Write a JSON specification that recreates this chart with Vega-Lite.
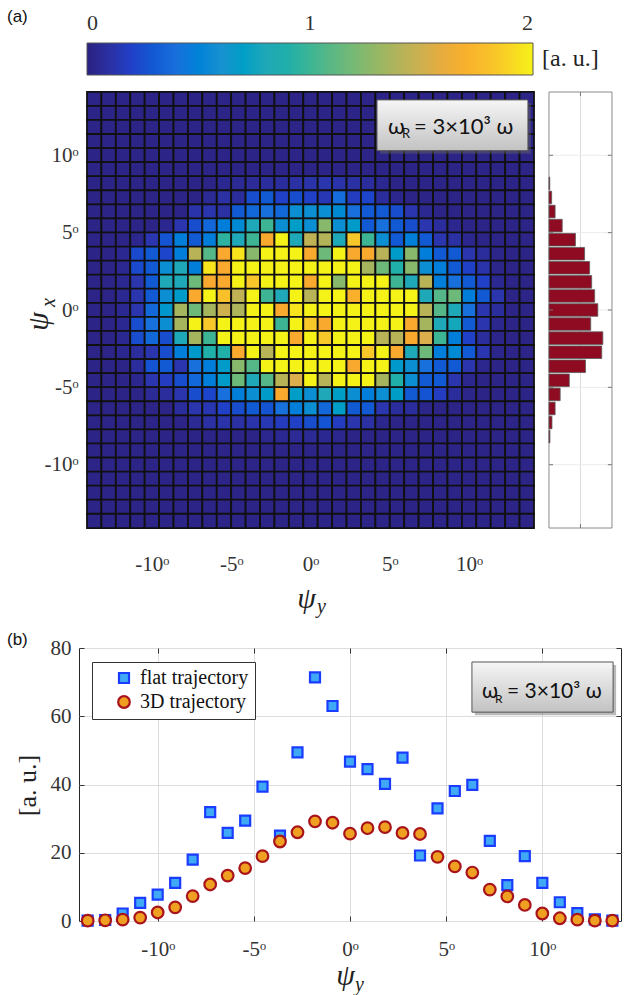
{
"$schema":"https://vega.github.io/schema/vega-lite/v6.json",
"background":"white",
"autosize":{"type":"none"},
"padding":{"left":79,"top":87,"right":553,"bottom":908},
"config":{"view":{"stroke":null},"font":"Liberation Serif"},
"bounds":"flush",
"spacing":115,
"resolve":{"legend":{"color":"independent","fill":"independent","shape":"independent","stroke":"independent","size":"independent"}},
"datasets":{
"ticks":[{"t":4},{"t":9.5},{"t":15},{"t":20.5},{"t":26}],
"hist":[{"r":6,"n":0.5},{"r":7,"n":1.7},{"r":8,"n":3.9},{"r":9,"n":8.4},{"r":10,"n":16.8},{"r":11,"n":22.6},{"r":12,"n":25.8},{"r":13,"n":27.1},{"r":14,"n":29.0},{"r":15,"n":31.0},{"r":16,"n":26.5},{"r":17,"n":34.2},{"r":18,"n":33.5},{"r":19,"n":23.2},{"r":20,"n":12.9},{"r":21,"n":7.1},{"r":22,"n":3.9},{"r":23,"n":1.9},{"r":24,"n":0.6}],
"traj":[
{"psi_y":-13.64,"value":0.1,"series":"flat trajectory"},{"psi_y":-12.73,"value":0.3,"series":"flat trajectory"},{"psi_y":-11.82,"value":2.2,"series":"flat trajectory"},{"psi_y":-10.91,"value":5.3,"series":"flat trajectory"},{"psi_y":-10,"value":7.7,"series":"flat trajectory"},{"psi_y":-9.09,"value":11.2,"series":"flat trajectory"},{"psi_y":-8.18,"value":18.0,"series":"flat trajectory"},{"psi_y":-7.27,"value":31.9,"series":"flat trajectory"},{"psi_y":-6.36,"value":25.8,"series":"flat trajectory"},{"psi_y":-5.45,"value":29.4,"series":"flat trajectory"},{"psi_y":-4.55,"value":39.4,"series":"flat trajectory"},{"psi_y":-3.64,"value":25.0,"series":"flat trajectory"},{"psi_y":-2.73,"value":49.4,"series":"flat trajectory"},{"psi_y":-1.82,"value":71.4,"series":"flat trajectory"},{"psi_y":-0.91,"value":63.0,"series":"flat trajectory"},{"psi_y":0,"value":46.7,"series":"flat trajectory"},{"psi_y":0.91,"value":44.5,"series":"flat trajectory"},{"psi_y":1.82,"value":40.2,"series":"flat trajectory"},{"psi_y":2.73,"value":47.9,"series":"flat trajectory"},{"psi_y":3.64,"value":19.2,"series":"flat trajectory"},{"psi_y":4.55,"value":33.0,"series":"flat trajectory"},{"psi_y":5.45,"value":38.1,"series":"flat trajectory"},{"psi_y":6.36,"value":39.9,"series":"flat trajectory"},{"psi_y":7.27,"value":23.5,"series":"flat trajectory"},{"psi_y":8.18,"value":10.5,"series":"flat trajectory"},{"psi_y":9.09,"value":19.0,"series":"flat trajectory"},{"psi_y":10,"value":11.2,"series":"flat trajectory"},{"psi_y":10.91,"value":5.5,"series":"flat trajectory"},{"psi_y":11.82,"value":2.3,"series":"flat trajectory"},{"psi_y":12.73,"value":0.5,"series":"flat trajectory"},{"psi_y":13.64,"value":0.1,"series":"flat trajectory"},
{"psi_y":-13.64,"value":0.1,"series":"3D trajectory"},{"psi_y":-12.73,"value":0.2,"series":"3D trajectory"},{"psi_y":-11.82,"value":0.4,"series":"3D trajectory"},{"psi_y":-10.91,"value":1.0,"series":"3D trajectory"},{"psi_y":-10,"value":2.5,"series":"3D trajectory"},{"psi_y":-9.09,"value":4.0,"series":"3D trajectory"},{"psi_y":-8.18,"value":7.3,"series":"3D trajectory"},{"psi_y":-7.27,"value":10.7,"series":"3D trajectory"},{"psi_y":-6.36,"value":13.3,"series":"3D trajectory"},{"psi_y":-5.45,"value":15.5,"series":"3D trajectory"},{"psi_y":-4.55,"value":19.0,"series":"3D trajectory"},{"psi_y":-3.64,"value":23.3,"series":"3D trajectory"},{"psi_y":-2.73,"value":26.0,"series":"3D trajectory"},{"psi_y":-1.82,"value":29.2,"series":"3D trajectory"},{"psi_y":-0.91,"value":28.8,"series":"3D trajectory"},{"psi_y":0,"value":25.6,"series":"3D trajectory"},{"psi_y":0.91,"value":27.2,"series":"3D trajectory"},{"psi_y":1.82,"value":27.5,"series":"3D trajectory"},{"psi_y":2.73,"value":25.8,"series":"3D trajectory"},{"psi_y":3.64,"value":25.5,"series":"3D trajectory"},{"psi_y":4.55,"value":18.8,"series":"3D trajectory"},{"psi_y":5.45,"value":16.0,"series":"3D trajectory"},{"psi_y":6.36,"value":14.2,"series":"3D trajectory"},{"psi_y":7.27,"value":9.2,"series":"3D trajectory"},{"psi_y":8.18,"value":7.2,"series":"3D trajectory"},{"psi_y":9.09,"value":4.7,"series":"3D trajectory"},{"psi_y":10,"value":2.2,"series":"3D trajectory"},{"psi_y":10.91,"value":0.8,"series":"3D trajectory"},{"psi_y":11.82,"value":0.4,"series":"3D trajectory"},{"psi_y":12.73,"value":0.1,"series":"3D trajectory"},{"psi_y":13.64,"value":0.1,"series":"3D trajectory"}],
"heat":[
{"c":0,"r":0,"v":0.02},{"c":1,"r":0,"v":0.02},{"c":2,"r":0,"v":0.02},{"c":3,"r":0,"v":0.02},{"c":4,"r":0,"v":0.02},{"c":5,"r":0,"v":0.02},{"c":6,"r":0,"v":0.02},{"c":7,"r":0,"v":0.02},{"c":8,"r":0,"v":0.02},{"c":9,"r":0,"v":0.02},{"c":10,"r":0,"v":0.02},{"c":11,"r":0,"v":0.02},{"c":12,"r":0,"v":0.02},{"c":13,"r":0,"v":0.02},{"c":14,"r":0,"v":0.02},{"c":15,"r":0,"v":0.02},{"c":16,"r":0,"v":0.02},{"c":17,"r":0,"v":0.02},{"c":18,"r":0,"v":0.02},{"c":19,"r":0,"v":0.02},{"c":20,"r":0,"v":0.02},{"c":21,"r":0,"v":0.02},{"c":22,"r":0,"v":0.02},{"c":23,"r":0,"v":0.02},{"c":24,"r":0,"v":0.02},{"c":25,"r":0,"v":0.02},{"c":26,"r":0,"v":0.02},{"c":27,"r":0,"v":0.02},{"c":28,"r":0,"v":0.02},{"c":29,"r":0,"v":0.02},{"c":30,"r":0,"v":0.02},
{"c":0,"r":1,"v":0.02},{"c":1,"r":1,"v":0.02},{"c":2,"r":1,"v":0.02},{"c":3,"r":1,"v":0.02},{"c":4,"r":1,"v":0.02},{"c":5,"r":1,"v":0.02},{"c":6,"r":1,"v":0.02},{"c":7,"r":1,"v":0.02},{"c":8,"r":1,"v":0.02},{"c":9,"r":1,"v":0.02},{"c":10,"r":1,"v":0.02},{"c":11,"r":1,"v":0.02},{"c":12,"r":1,"v":0.02},{"c":13,"r":1,"v":0.02},{"c":14,"r":1,"v":0.02},{"c":15,"r":1,"v":0.02},{"c":16,"r":1,"v":0.02},{"c":17,"r":1,"v":0.02},{"c":18,"r":1,"v":0.02},{"c":19,"r":1,"v":0.02},{"c":20,"r":1,"v":0.02},{"c":21,"r":1,"v":0.02},{"c":22,"r":1,"v":0.02},{"c":23,"r":1,"v":0.02},{"c":24,"r":1,"v":0.02},{"c":25,"r":1,"v":0.02},{"c":26,"r":1,"v":0.02},{"c":27,"r":1,"v":0.02},{"c":28,"r":1,"v":0.02},{"c":29,"r":1,"v":0.02},{"c":30,"r":1,"v":0.02},
{"c":0,"r":2,"v":0.02},{"c":1,"r":2,"v":0.02},{"c":2,"r":2,"v":0.02},{"c":3,"r":2,"v":0.02},{"c":4,"r":2,"v":0.02},{"c":5,"r":2,"v":0.02},{"c":6,"r":2,"v":0.02},{"c":7,"r":2,"v":0.02},{"c":8,"r":2,"v":0.02},{"c":9,"r":2,"v":0.02},{"c":10,"r":2,"v":0.02},{"c":11,"r":2,"v":0.02},{"c":12,"r":2,"v":0.02},{"c":13,"r":2,"v":0.02},{"c":14,"r":2,"v":0.02},{"c":15,"r":2,"v":0.02},{"c":16,"r":2,"v":0.02},{"c":17,"r":2,"v":0.02},{"c":18,"r":2,"v":0.02},{"c":19,"r":2,"v":0.02},{"c":20,"r":2,"v":0.02},{"c":21,"r":2,"v":0.02},{"c":22,"r":2,"v":0.02},{"c":23,"r":2,"v":0.02},{"c":24,"r":2,"v":0.02},{"c":25,"r":2,"v":0.02},{"c":26,"r":2,"v":0.02},{"c":27,"r":2,"v":0.02},{"c":28,"r":2,"v":0.02},{"c":29,"r":2,"v":0.02},{"c":30,"r":2,"v":0.02},
{"c":0,"r":3,"v":0.02},{"c":1,"r":3,"v":0.02},{"c":2,"r":3,"v":0.02},{"c":3,"r":3,"v":0.02},{"c":4,"r":3,"v":0.02},{"c":5,"r":3,"v":0.02},{"c":6,"r":3,"v":0.02},{"c":7,"r":3,"v":0.02},{"c":8,"r":3,"v":0.02},{"c":9,"r":3,"v":0.02},{"c":10,"r":3,"v":0.02},{"c":11,"r":3,"v":0.02},{"c":12,"r":3,"v":0.02},{"c":13,"r":3,"v":0.02},{"c":14,"r":3,"v":0.02},{"c":15,"r":3,"v":0.02},{"c":16,"r":3,"v":0.02},{"c":17,"r":3,"v":0.02},{"c":18,"r":3,"v":0.02},{"c":19,"r":3,"v":0.02},{"c":20,"r":3,"v":0.02},{"c":21,"r":3,"v":0.02},{"c":22,"r":3,"v":0.02},{"c":23,"r":3,"v":0.02},{"c":24,"r":3,"v":0.02},{"c":25,"r":3,"v":0.02},{"c":26,"r":3,"v":0.02},{"c":27,"r":3,"v":0.02},{"c":28,"r":3,"v":0.02},{"c":29,"r":3,"v":0.02},{"c":30,"r":3,"v":0.02},
{"c":0,"r":4,"v":0.02},{"c":1,"r":4,"v":0.02},{"c":2,"r":4,"v":0.02},{"c":3,"r":4,"v":0.02},{"c":4,"r":4,"v":0.02},{"c":5,"r":4,"v":0.02},{"c":6,"r":4,"v":0.02},{"c":7,"r":4,"v":0.02},{"c":8,"r":4,"v":0.02},{"c":9,"r":4,"v":0.02},{"c":10,"r":4,"v":0.02},{"c":11,"r":4,"v":0.02},{"c":12,"r":4,"v":0.02},{"c":13,"r":4,"v":0.02},{"c":14,"r":4,"v":0.02},{"c":15,"r":4,"v":0.02},{"c":16,"r":4,"v":0.02},{"c":17,"r":4,"v":0.02},{"c":18,"r":4,"v":0.02},{"c":19,"r":4,"v":0.02},{"c":20,"r":4,"v":0.02},{"c":21,"r":4,"v":0.02},{"c":22,"r":4,"v":0.02},{"c":23,"r":4,"v":0.02},{"c":24,"r":4,"v":0.02},{"c":25,"r":4,"v":0.02},{"c":26,"r":4,"v":0.02},{"c":27,"r":4,"v":0.02},{"c":28,"r":4,"v":0.02},{"c":29,"r":4,"v":0.02},{"c":30,"r":4,"v":0.02},
{"c":0,"r":5,"v":0.02},{"c":1,"r":5,"v":0.02},{"c":2,"r":5,"v":0.02},{"c":3,"r":5,"v":0.02},{"c":4,"r":5,"v":0.02},{"c":5,"r":5,"v":0.02},{"c":6,"r":5,"v":0.02},{"c":7,"r":5,"v":0.02},{"c":8,"r":5,"v":0.02},{"c":9,"r":5,"v":0.02},{"c":10,"r":5,"v":0.02},{"c":11,"r":5,"v":0.02},{"c":12,"r":5,"v":0.02},{"c":13,"r":5,"v":0.02},{"c":14,"r":5,"v":0.02},{"c":15,"r":5,"v":0.02},{"c":16,"r":5,"v":0.02},{"c":17,"r":5,"v":0.02},{"c":18,"r":5,"v":0.02},{"c":19,"r":5,"v":0.02},{"c":20,"r":5,"v":0.02},{"c":21,"r":5,"v":0.02},{"c":22,"r":5,"v":0.02},{"c":23,"r":5,"v":0.02},{"c":24,"r":5,"v":0.02},{"c":25,"r":5,"v":0.02},{"c":26,"r":5,"v":0.02},{"c":27,"r":5,"v":0.02},{"c":28,"r":5,"v":0.02},{"c":29,"r":5,"v":0.02},{"c":30,"r":5,"v":0.02},
{"c":0,"r":6,"v":0.02},{"c":1,"r":6,"v":0.02},{"c":2,"r":6,"v":0.02},{"c":3,"r":6,"v":0.02},{"c":4,"r":6,"v":0.02},{"c":5,"r":6,"v":0.02},{"c":6,"r":6,"v":0.02},{"c":7,"r":6,"v":0.02},{"c":8,"r":6,"v":0.02},{"c":9,"r":6,"v":0.05},{"c":10,"r":6,"v":0.06},{"c":11,"r":6,"v":0.07},{"c":12,"r":6,"v":0.08},{"c":13,"r":6,"v":0.08},{"c":14,"r":6,"v":0.1},{"c":15,"r":6,"v":0.12},{"c":16,"r":6,"v":0.13},{"c":17,"r":6,"v":0.12},{"c":18,"r":6,"v":0.1},{"c":19,"r":6,"v":0.08},{"c":20,"r":6,"v":0.05},{"c":21,"r":6,"v":0.02},{"c":22,"r":6,"v":0.02},{"c":23,"r":6,"v":0.02},{"c":24,"r":6,"v":0.02},{"c":25,"r":6,"v":0.02},{"c":26,"r":6,"v":0.02},{"c":27,"r":6,"v":0.02},{"c":28,"r":6,"v":0.02},{"c":29,"r":6,"v":0.02},{"c":30,"r":6,"v":0.02},
{"c":0,"r":7,"v":0.02},{"c":1,"r":7,"v":0.02},{"c":2,"r":7,"v":0.02},{"c":3,"r":7,"v":0.02},{"c":4,"r":7,"v":0.02},{"c":5,"r":7,"v":0.02},{"c":6,"r":7,"v":0.02},{"c":7,"r":7,"v":0.02},{"c":8,"r":7,"v":0.06},{"c":9,"r":7,"v":0.1},{"c":10,"r":7,"v":0.08},{"c":11,"r":7,"v":0.25},{"c":12,"r":7,"v":0.3},{"c":13,"r":7,"v":0.2},{"c":14,"r":7,"v":0.25},{"c":15,"r":7,"v":0.2},{"c":16,"r":7,"v":0.15},{"c":17,"r":7,"v":0.38},{"c":18,"r":7,"v":0.18},{"c":19,"r":7,"v":0.22},{"c":20,"r":7,"v":0.08},{"c":21,"r":7,"v":0.04},{"c":22,"r":7,"v":0.02},{"c":23,"r":7,"v":0.02},{"c":24,"r":7,"v":0.02},{"c":25,"r":7,"v":0.02},{"c":26,"r":7,"v":0.02},{"c":27,"r":7,"v":0.02},{"c":28,"r":7,"v":0.02},{"c":29,"r":7,"v":0.02},{"c":30,"r":7,"v":0.02},
{"c":0,"r":8,"v":0.02},{"c":1,"r":8,"v":0.02},{"c":2,"r":8,"v":0.02},{"c":3,"r":8,"v":0.02},{"c":4,"r":8,"v":0.02},{"c":5,"r":8,"v":0.02},{"c":6,"r":8,"v":0.02},{"c":7,"r":8,"v":0.12},{"c":8,"r":8,"v":0.13},{"c":9,"r":8,"v":0.1},{"c":10,"r":8,"v":0.3},{"c":11,"r":8,"v":0.36},{"c":12,"r":8,"v":0.4},{"c":13,"r":8,"v":0.36},{"c":14,"r":8,"v":0.58},{"c":15,"r":8,"v":0.58},{"c":16,"r":8,"v":0.58},{"c":17,"r":8,"v":0.55},{"c":18,"r":8,"v":0.4},{"c":19,"r":8,"v":0.3},{"c":20,"r":8,"v":0.3},{"c":21,"r":8,"v":0.25},{"c":22,"r":8,"v":0.13},{"c":23,"r":8,"v":0.05},{"c":24,"r":8,"v":0.02},{"c":25,"r":8,"v":0.02},{"c":26,"r":8,"v":0.02},{"c":27,"r":8,"v":0.02},{"c":28,"r":8,"v":0.02},{"c":29,"r":8,"v":0.02},{"c":30,"r":8,"v":0.02},
{"c":0,"r":9,"v":0.02},{"c":1,"r":9,"v":0.02},{"c":2,"r":9,"v":0.02},{"c":3,"r":9,"v":0.02},{"c":4,"r":9,"v":0.02},{"c":5,"r":9,"v":0.04},{"c":6,"r":9,"v":0.13},{"c":7,"r":9,"v":0.25},{"c":8,"r":9,"v":0.36},{"c":9,"r":9,"v":0.48},{"c":10,"r":9,"v":0.55},{"c":11,"r":9,"v":0.8},{"c":12,"r":9,"v":1.0},{"c":13,"r":9,"v":0.58},{"c":14,"r":9,"v":0.7},{"c":15,"r":9,"v":0.58},{"c":16,"r":9,"v":1.25},{"c":17,"r":9,"v":0.58},{"c":18,"r":9,"v":0.68},{"c":19,"r":9,"v":0.3},{"c":20,"r":9,"v":0.4},{"c":21,"r":9,"v":0.3},{"c":22,"r":9,"v":0.25},{"c":23,"r":9,"v":0.13},{"c":24,"r":9,"v":0.08},{"c":25,"r":9,"v":0.04},{"c":26,"r":9,"v":0.02},{"c":27,"r":9,"v":0.02},{"c":28,"r":9,"v":0.02},{"c":29,"r":9,"v":0.02},{"c":30,"r":9,"v":0.02},
{"c":0,"r":10,"v":0.02},{"c":1,"r":10,"v":0.02},{"c":2,"r":10,"v":0.02},{"c":3,"r":10,"v":0.04},{"c":4,"r":10,"v":0.13},{"c":5,"r":10,"v":0.28},{"c":6,"r":10,"v":0.48},{"c":7,"r":10,"v":0.3},{"c":8,"r":10,"v":0.48},{"c":9,"r":10,"v":0.95},{"c":10,"r":10,"v":0.8},{"c":11,"r":10,"v":1.0},{"c":12,"r":10,"v":1.65},{"c":13,"r":10,"v":2.2},{"c":14,"r":10,"v":0.8},{"c":15,"r":10,"v":1.45},{"c":16,"r":10,"v":1.4},{"c":17,"r":10,"v":0.8},{"c":18,"r":10,"v":1.85},{"c":19,"r":10,"v":1.0},{"c":20,"r":10,"v":0.58},{"c":21,"r":10,"v":0.3},{"c":22,"r":10,"v":0.48},{"c":23,"r":10,"v":0.3},{"c":24,"r":10,"v":0.13},{"c":25,"r":10,"v":0.1},{"c":26,"r":10,"v":0.04},{"c":27,"r":10,"v":0.02},{"c":28,"r":10,"v":0.02},{"c":29,"r":10,"v":0.02},{"c":30,"r":10,"v":0.02},
{"c":0,"r":11,"v":0.02},{"c":1,"r":11,"v":0.02},{"c":2,"r":11,"v":0.05},{"c":3,"r":11,"v":0.24},{"c":4,"r":11,"v":0.3},{"c":5,"r":11,"v":0.22},{"c":6,"r":11,"v":0.48},{"c":7,"r":11,"v":1.42},{"c":8,"r":11,"v":1.08},{"c":9,"r":11,"v":1.65},{"c":10,"r":11,"v":1.95},{"c":11,"r":11,"v":1.25},{"c":12,"r":11,"v":2.2},{"c":13,"r":11,"v":2.2},{"c":14,"r":11,"v":2.2},{"c":15,"r":11,"v":1.65},{"c":16,"r":11,"v":1.16},{"c":17,"r":11,"v":2.2},{"c":18,"r":11,"v":1.65},{"c":19,"r":11,"v":1.65},{"c":20,"r":11,"v":1.42},{"c":21,"r":11,"v":0.68},{"c":22,"r":11,"v":1.25},{"c":23,"r":11,"v":0.48},{"c":24,"r":11,"v":0.3},{"c":25,"r":11,"v":0.3},{"c":26,"r":11,"v":0.13},{"c":27,"r":11,"v":0.08},{"c":28,"r":11,"v":0.03},{"c":29,"r":11,"v":0.02},{"c":30,"r":11,"v":0.02},
{"c":0,"r":12,"v":0.02},{"c":1,"r":12,"v":0.02},{"c":2,"r":12,"v":0.05},{"c":3,"r":12,"v":0.24},{"c":4,"r":12,"v":0.3},{"c":5,"r":12,"v":0.58},{"c":6,"r":12,"v":0.8},{"c":7,"r":12,"v":0.48},{"c":8,"r":12,"v":1.95},{"c":9,"r":12,"v":1.65},{"c":10,"r":12,"v":2.2},{"c":11,"r":12,"v":2.2},{"c":12,"r":12,"v":2.2},{"c":13,"r":12,"v":2.2},{"c":14,"r":12,"v":2.2},{"c":15,"r":12,"v":2.2},{"c":16,"r":12,"v":2.2},{"c":17,"r":12,"v":2.2},{"c":18,"r":12,"v":2.2},{"c":19,"r":12,"v":1.35},{"c":20,"r":12,"v":1.16},{"c":21,"r":12,"v":0.9},{"c":22,"r":12,"v":1.25},{"c":23,"r":12,"v":0.58},{"c":24,"r":12,"v":0.48},{"c":25,"r":12,"v":0.3},{"c":26,"r":12,"v":0.2},{"c":27,"r":12,"v":0.12},{"c":28,"r":12,"v":0.03},{"c":29,"r":12,"v":0.02},{"c":30,"r":12,"v":0.02},
{"c":0,"r":13,"v":0.02},{"c":1,"r":13,"v":0.02},{"c":2,"r":13,"v":0.05},{"c":3,"r":13,"v":0.13},{"c":4,"r":13,"v":0.3},{"c":5,"r":13,"v":0.8},{"c":6,"r":13,"v":0.8},{"c":7,"r":13,"v":1.16},{"c":8,"r":13,"v":1.65},{"c":9,"r":13,"v":1.65},{"c":10,"r":13,"v":2.2},{"c":11,"r":13,"v":1.85},{"c":12,"r":13,"v":2.2},{"c":13,"r":13,"v":2.2},{"c":14,"r":13,"v":2.2},{"c":15,"r":13,"v":1.65},{"c":16,"r":13,"v":2.2},{"c":17,"r":13,"v":1.25},{"c":18,"r":13,"v":2.2},{"c":19,"r":13,"v":2.2},{"c":20,"r":13,"v":2.2},{"c":21,"r":13,"v":1.0},{"c":22,"r":13,"v":0.8},{"c":23,"r":13,"v":1.42},{"c":24,"r":13,"v":0.48},{"c":25,"r":13,"v":0.4},{"c":26,"r":13,"v":0.3},{"c":27,"r":13,"v":0.2},{"c":28,"r":13,"v":0.05},{"c":29,"r":13,"v":0.02},{"c":30,"r":13,"v":0.02},
{"c":0,"r":14,"v":0.02},{"c":1,"r":14,"v":0.02},{"c":2,"r":14,"v":0.05},{"c":3,"r":14,"v":0.13},{"c":4,"r":14,"v":0.3},{"c":5,"r":14,"v":0.58},{"c":6,"r":14,"v":0.68},{"c":7,"r":14,"v":1.65},{"c":8,"r":14,"v":2.2},{"c":9,"r":14,"v":1.8},{"c":10,"r":14,"v":1.45},{"c":11,"r":14,"v":2.2},{"c":12,"r":14,"v":1.0},{"c":13,"r":14,"v":0.8},{"c":14,"r":14,"v":2.2},{"c":15,"r":14,"v":1.42},{"c":16,"r":14,"v":2.2},{"c":17,"r":14,"v":2.2},{"c":18,"r":14,"v":1.7},{"c":19,"r":14,"v":2.2},{"c":20,"r":14,"v":2.2},{"c":21,"r":14,"v":2.2},{"c":22,"r":14,"v":2.2},{"c":23,"r":14,"v":0.8},{"c":24,"r":14,"v":1.08},{"c":25,"r":14,"v":1.16},{"c":26,"r":14,"v":0.48},{"c":27,"r":14,"v":0.3},{"c":28,"r":14,"v":0.13},{"c":29,"r":14,"v":0.02},{"c":30,"r":14,"v":0.02},
{"c":0,"r":15,"v":0.02},{"c":1,"r":15,"v":0.02},{"c":2,"r":15,"v":0.05},{"c":3,"r":15,"v":0.13},{"c":4,"r":15,"v":0.36},{"c":5,"r":15,"v":0.65},{"c":6,"r":15,"v":1.35},{"c":7,"r":15,"v":1.16},{"c":8,"r":15,"v":1.35},{"c":9,"r":15,"v":1.5},{"c":10,"r":15,"v":1.38},{"c":11,"r":15,"v":2.2},{"c":12,"r":15,"v":2.2},{"c":13,"r":15,"v":1.65},{"c":14,"r":15,"v":1.95},{"c":15,"r":15,"v":2.2},{"c":16,"r":15,"v":2.2},{"c":17,"r":15,"v":2.2},{"c":18,"r":15,"v":2.2},{"c":19,"r":15,"v":2.2},{"c":20,"r":15,"v":2.2},{"c":21,"r":15,"v":2.2},{"c":22,"r":15,"v":2.2},{"c":23,"r":15,"v":1.42},{"c":24,"r":15,"v":1.08},{"c":25,"r":15,"v":0.8},{"c":26,"r":15,"v":0.4},{"c":27,"r":15,"v":0.13},{"c":28,"r":15,"v":0.08},{"c":29,"r":15,"v":0.02},{"c":30,"r":15,"v":0.02},
{"c":0,"r":16,"v":0.02},{"c":1,"r":16,"v":0.02},{"c":2,"r":16,"v":0.05},{"c":3,"r":16,"v":0.25},{"c":4,"r":16,"v":0.4},{"c":5,"r":16,"v":0.58},{"c":6,"r":16,"v":1.35},{"c":7,"r":16,"v":2.2},{"c":8,"r":16,"v":1.85},{"c":9,"r":16,"v":2.2},{"c":10,"r":16,"v":2.2},{"c":11,"r":16,"v":2.2},{"c":12,"r":16,"v":2.2},{"c":13,"r":16,"v":1.0},{"c":14,"r":16,"v":2.2},{"c":15,"r":16,"v":1.85},{"c":16,"r":16,"v":1.65},{"c":17,"r":16,"v":2.2},{"c":18,"r":16,"v":2.2},{"c":19,"r":16,"v":2.2},{"c":20,"r":16,"v":2.2},{"c":21,"r":16,"v":2.2},{"c":22,"r":16,"v":1.65},{"c":23,"r":16,"v":1.35},{"c":24,"r":16,"v":0.8},{"c":25,"r":16,"v":0.78},{"c":26,"r":16,"v":0.3},{"c":27,"r":16,"v":0.13},{"c":28,"r":16,"v":0.04},{"c":29,"r":16,"v":0.02},{"c":30,"r":16,"v":0.02},
{"c":0,"r":17,"v":0.02},{"c":1,"r":17,"v":0.02},{"c":2,"r":17,"v":0.05},{"c":3,"r":17,"v":0.25},{"c":4,"r":17,"v":0.36},{"c":5,"r":17,"v":0.25},{"c":6,"r":17,"v":0.8},{"c":7,"r":17,"v":1.35},{"c":8,"r":17,"v":1.0},{"c":9,"r":17,"v":2.2},{"c":10,"r":17,"v":2.2},{"c":11,"r":17,"v":2.2},{"c":12,"r":17,"v":2.2},{"c":13,"r":17,"v":2.2},{"c":14,"r":17,"v":1.65},{"c":15,"r":17,"v":2.2},{"c":16,"r":17,"v":1.85},{"c":17,"r":17,"v":2.2},{"c":18,"r":17,"v":2.2},{"c":19,"r":17,"v":2.2},{"c":20,"r":17,"v":1.42},{"c":21,"r":17,"v":1.42},{"c":22,"r":17,"v":1.65},{"c":23,"r":17,"v":1.55},{"c":24,"r":17,"v":1.0},{"c":25,"r":17,"v":0.48},{"c":26,"r":17,"v":0.2},{"c":27,"r":17,"v":0.08},{"c":28,"r":17,"v":0.03},{"c":29,"r":17,"v":0.02},{"c":30,"r":17,"v":0.02},
{"c":0,"r":18,"v":0.02},{"c":1,"r":18,"v":0.02},{"c":2,"r":18,"v":0.04},{"c":3,"r":18,"v":0.08},{"c":4,"r":18,"v":0.13},{"c":5,"r":18,"v":0.25},{"c":6,"r":18,"v":0.48},{"c":7,"r":18,"v":0.66},{"c":8,"r":18,"v":0.9},{"c":9,"r":18,"v":0.9},{"c":10,"r":18,"v":1.65},{"c":11,"r":18,"v":2.2},{"c":12,"r":18,"v":1.42},{"c":13,"r":18,"v":2.2},{"c":14,"r":18,"v":2.2},{"c":15,"r":18,"v":2.2},{"c":16,"r":18,"v":2.2},{"c":17,"r":18,"v":2.2},{"c":18,"r":18,"v":2.2},{"c":19,"r":18,"v":1.85},{"c":20,"r":18,"v":2.2},{"c":21,"r":18,"v":1.65},{"c":22,"r":18,"v":0.8},{"c":23,"r":18,"v":1.16},{"c":24,"r":18,"v":0.48},{"c":25,"r":18,"v":0.55},{"c":26,"r":18,"v":0.3},{"c":27,"r":18,"v":0.13},{"c":28,"r":18,"v":0.03},{"c":29,"r":18,"v":0.02},{"c":30,"r":18,"v":0.02},
{"c":0,"r":19,"v":0.02},{"c":1,"r":19,"v":0.02},{"c":2,"r":19,"v":0.02},{"c":3,"r":19,"v":0.08},{"c":4,"r":19,"v":0.28},{"c":5,"r":19,"v":0.3},{"c":6,"r":19,"v":0.13},{"c":7,"r":19,"v":0.4},{"c":8,"r":19,"v":0.48},{"c":9,"r":19,"v":0.68},{"c":10,"r":19,"v":1.25},{"c":11,"r":19,"v":1.08},{"c":12,"r":19,"v":2.2},{"c":13,"r":19,"v":2.2},{"c":14,"r":19,"v":2.2},{"c":15,"r":19,"v":2.2},{"c":16,"r":19,"v":2.2},{"c":17,"r":19,"v":2.2},{"c":18,"r":19,"v":1.65},{"c":19,"r":19,"v":2.2},{"c":20,"r":19,"v":2.0},{"c":21,"r":19,"v":0.66},{"c":22,"r":19,"v":0.58},{"c":23,"r":19,"v":0.4},{"c":24,"r":19,"v":0.3},{"c":25,"r":19,"v":0.3},{"c":26,"r":19,"v":0.13},{"c":27,"r":19,"v":0.04},{"c":28,"r":19,"v":0.02},{"c":29,"r":19,"v":0.02},{"c":30,"r":19,"v":0.02},
{"c":0,"r":20,"v":0.02},{"c":1,"r":20,"v":0.02},{"c":2,"r":20,"v":0.02},{"c":3,"r":20,"v":0.04},{"c":4,"r":20,"v":0.13},{"c":5,"r":20,"v":0.18},{"c":6,"r":20,"v":0.25},{"c":7,"r":20,"v":0.36},{"c":8,"r":20,"v":0.48},{"c":9,"r":20,"v":0.68},{"c":10,"r":20,"v":1.16},{"c":11,"r":20,"v":0.8},{"c":12,"r":20,"v":1.08},{"c":13,"r":20,"v":1.42},{"c":14,"r":20,"v":1.55},{"c":15,"r":20,"v":2.2},{"c":16,"r":20,"v":1.42},{"c":17,"r":20,"v":2.2},{"c":18,"r":20,"v":2.2},{"c":19,"r":20,"v":2.2},{"c":20,"r":20,"v":1.35},{"c":21,"r":20,"v":0.9},{"c":22,"r":20,"v":0.58},{"c":23,"r":20,"v":0.3},{"c":24,"r":20,"v":0.3},{"c":25,"r":20,"v":0.13},{"c":26,"r":20,"v":0.04},{"c":27,"r":20,"v":0.02},{"c":28,"r":20,"v":0.02},{"c":29,"r":20,"v":0.02},{"c":30,"r":20,"v":0.02},
{"c":0,"r":21,"v":0.02},{"c":1,"r":21,"v":0.02},{"c":2,"r":21,"v":0.02},{"c":3,"r":21,"v":0.02},{"c":4,"r":21,"v":0.06},{"c":5,"r":21,"v":0.08},{"c":6,"r":21,"v":0.13},{"c":7,"r":21,"v":0.25},{"c":8,"r":21,"v":0.22},{"c":9,"r":21,"v":0.4},{"c":10,"r":21,"v":0.48},{"c":11,"r":21,"v":0.58},{"c":12,"r":21,"v":0.68},{"c":13,"r":21,"v":1.65},{"c":14,"r":21,"v":0.7},{"c":15,"r":21,"v":0.58},{"c":16,"r":21,"v":0.8},{"c":17,"r":21,"v":0.7},{"c":18,"r":21,"v":0.58},{"c":19,"r":21,"v":0.48},{"c":20,"r":21,"v":0.58},{"c":21,"r":21,"v":0.7},{"c":22,"r":21,"v":0.3},{"c":23,"r":21,"v":0.28},{"c":24,"r":21,"v":0.18},{"c":25,"r":21,"v":0.08},{"c":26,"r":21,"v":0.03},{"c":27,"r":21,"v":0.02},{"c":28,"r":21,"v":0.02},{"c":29,"r":21,"v":0.02},{"c":30,"r":21,"v":0.02},
{"c":0,"r":22,"v":0.02},{"c":1,"r":22,"v":0.02},{"c":2,"r":22,"v":0.02},{"c":3,"r":22,"v":0.02},{"c":4,"r":22,"v":0.02},{"c":5,"r":22,"v":0.02},{"c":6,"r":22,"v":0.08},{"c":7,"r":22,"v":0.13},{"c":8,"r":22,"v":0.14},{"c":9,"r":22,"v":0.2},{"c":10,"r":22,"v":0.25},{"c":11,"r":22,"v":0.3},{"c":12,"r":22,"v":0.28},{"c":13,"r":22,"v":0.4},{"c":14,"r":22,"v":0.48},{"c":15,"r":22,"v":0.58},{"c":16,"r":22,"v":0.36},{"c":17,"r":22,"v":0.7},{"c":18,"r":22,"v":0.3},{"c":19,"r":22,"v":0.3},{"c":20,"r":22,"v":0.13},{"c":21,"r":22,"v":0.08},{"c":22,"r":22,"v":0.08},{"c":23,"r":22,"v":0.03},{"c":24,"r":22,"v":0.02},{"c":25,"r":22,"v":0.02},{"c":26,"r":22,"v":0.02},{"c":27,"r":22,"v":0.02},{"c":28,"r":22,"v":0.02},{"c":29,"r":22,"v":0.02},{"c":30,"r":22,"v":0.02},
{"c":0,"r":23,"v":0.02},{"c":1,"r":23,"v":0.02},{"c":2,"r":23,"v":0.02},{"c":3,"r":23,"v":0.02},{"c":4,"r":23,"v":0.02},{"c":5,"r":23,"v":0.02},{"c":6,"r":23,"v":0.02},{"c":7,"r":23,"v":0.06},{"c":8,"r":23,"v":0.1},{"c":9,"r":23,"v":0.12},{"c":10,"r":23,"v":0.1},{"c":11,"r":23,"v":0.12},{"c":12,"r":23,"v":0.15},{"c":13,"r":23,"v":0.17},{"c":14,"r":23,"v":0.2},{"c":15,"r":23,"v":0.25},{"c":16,"r":23,"v":0.28},{"c":17,"r":23,"v":0.18},{"c":18,"r":23,"v":0.13},{"c":19,"r":23,"v":0.1},{"c":20,"r":23,"v":0.04},{"c":21,"r":23,"v":0.02},{"c":22,"r":23,"v":0.02},{"c":23,"r":23,"v":0.02},{"c":24,"r":23,"v":0.02},{"c":25,"r":23,"v":0.02},{"c":26,"r":23,"v":0.02},{"c":27,"r":23,"v":0.02},{"c":28,"r":23,"v":0.02},{"c":29,"r":23,"v":0.02},{"c":30,"r":23,"v":0.02},
{"c":0,"r":24,"v":0.02},{"c":1,"r":24,"v":0.02},{"c":2,"r":24,"v":0.02},{"c":3,"r":24,"v":0.02},{"c":4,"r":24,"v":0.02},{"c":5,"r":24,"v":0.02},{"c":6,"r":24,"v":0.02},{"c":7,"r":24,"v":0.02},{"c":8,"r":24,"v":0.02},{"c":9,"r":24,"v":0.02},{"c":10,"r":24,"v":0.02},{"c":11,"r":24,"v":0.02},{"c":12,"r":24,"v":0.04},{"c":13,"r":24,"v":0.05},{"c":14,"r":24,"v":0.06},{"c":15,"r":24,"v":0.06},{"c":16,"r":24,"v":0.05},{"c":17,"r":24,"v":0.04},{"c":18,"r":24,"v":0.02},{"c":19,"r":24,"v":0.02},{"c":20,"r":24,"v":0.02},{"c":21,"r":24,"v":0.02},{"c":22,"r":24,"v":0.02},{"c":23,"r":24,"v":0.02},{"c":24,"r":24,"v":0.02},{"c":25,"r":24,"v":0.02},{"c":26,"r":24,"v":0.02},{"c":27,"r":24,"v":0.02},{"c":28,"r":24,"v":0.02},{"c":29,"r":24,"v":0.02},{"c":30,"r":24,"v":0.02},
{"c":0,"r":25,"v":0.02},{"c":1,"r":25,"v":0.02},{"c":2,"r":25,"v":0.02},{"c":3,"r":25,"v":0.02},{"c":4,"r":25,"v":0.02},{"c":5,"r":25,"v":0.02},{"c":6,"r":25,"v":0.02},{"c":7,"r":25,"v":0.02},{"c":8,"r":25,"v":0.02},{"c":9,"r":25,"v":0.02},{"c":10,"r":25,"v":0.02},{"c":11,"r":25,"v":0.02},{"c":12,"r":25,"v":0.02},{"c":13,"r":25,"v":0.02},{"c":14,"r":25,"v":0.02},{"c":15,"r":25,"v":0.02},{"c":16,"r":25,"v":0.02},{"c":17,"r":25,"v":0.02},{"c":18,"r":25,"v":0.02},{"c":19,"r":25,"v":0.02},{"c":20,"r":25,"v":0.02},{"c":21,"r":25,"v":0.02},{"c":22,"r":25,"v":0.02},{"c":23,"r":25,"v":0.02},{"c":24,"r":25,"v":0.02},{"c":25,"r":25,"v":0.02},{"c":26,"r":25,"v":0.02},{"c":27,"r":25,"v":0.02},{"c":28,"r":25,"v":0.02},{"c":29,"r":25,"v":0.02},{"c":30,"r":25,"v":0.02},
{"c":0,"r":26,"v":0.02},{"c":1,"r":26,"v":0.02},{"c":2,"r":26,"v":0.02},{"c":3,"r":26,"v":0.02},{"c":4,"r":26,"v":0.02},{"c":5,"r":26,"v":0.02},{"c":6,"r":26,"v":0.02},{"c":7,"r":26,"v":0.02},{"c":8,"r":26,"v":0.02},{"c":9,"r":26,"v":0.02},{"c":10,"r":26,"v":0.02},{"c":11,"r":26,"v":0.02},{"c":12,"r":26,"v":0.02},{"c":13,"r":26,"v":0.02},{"c":14,"r":26,"v":0.02},{"c":15,"r":26,"v":0.02},{"c":16,"r":26,"v":0.02},{"c":17,"r":26,"v":0.02},{"c":18,"r":26,"v":0.02},{"c":19,"r":26,"v":0.02},{"c":20,"r":26,"v":0.02},{"c":21,"r":26,"v":0.02},{"c":22,"r":26,"v":0.02},{"c":23,"r":26,"v":0.02},{"c":24,"r":26,"v":0.02},{"c":25,"r":26,"v":0.02},{"c":26,"r":26,"v":0.02},{"c":27,"r":26,"v":0.02},{"c":28,"r":26,"v":0.02},{"c":29,"r":26,"v":0.02},{"c":30,"r":26,"v":0.02},
{"c":0,"r":27,"v":0.02},{"c":1,"r":27,"v":0.02},{"c":2,"r":27,"v":0.02},{"c":3,"r":27,"v":0.02},{"c":4,"r":27,"v":0.02},{"c":5,"r":27,"v":0.02},{"c":6,"r":27,"v":0.02},{"c":7,"r":27,"v":0.02},{"c":8,"r":27,"v":0.02},{"c":9,"r":27,"v":0.02},{"c":10,"r":27,"v":0.02},{"c":11,"r":27,"v":0.02},{"c":12,"r":27,"v":0.02},{"c":13,"r":27,"v":0.02},{"c":14,"r":27,"v":0.02},{"c":15,"r":27,"v":0.02},{"c":16,"r":27,"v":0.02},{"c":17,"r":27,"v":0.02},{"c":18,"r":27,"v":0.02},{"c":19,"r":27,"v":0.02},{"c":20,"r":27,"v":0.02},{"c":21,"r":27,"v":0.02},{"c":22,"r":27,"v":0.02},{"c":23,"r":27,"v":0.02},{"c":24,"r":27,"v":0.02},{"c":25,"r":27,"v":0.02},{"c":26,"r":27,"v":0.02},{"c":27,"r":27,"v":0.02},{"c":28,"r":27,"v":0.02},{"c":29,"r":27,"v":0.02},{"c":30,"r":27,"v":0.02},
{"c":0,"r":28,"v":0.02},{"c":1,"r":28,"v":0.02},{"c":2,"r":28,"v":0.02},{"c":3,"r":28,"v":0.02},{"c":4,"r":28,"v":0.02},{"c":5,"r":28,"v":0.02},{"c":6,"r":28,"v":0.02},{"c":7,"r":28,"v":0.02},{"c":8,"r":28,"v":0.02},{"c":9,"r":28,"v":0.02},{"c":10,"r":28,"v":0.02},{"c":11,"r":28,"v":0.02},{"c":12,"r":28,"v":0.02},{"c":13,"r":28,"v":0.02},{"c":14,"r":28,"v":0.02},{"c":15,"r":28,"v":0.02},{"c":16,"r":28,"v":0.02},{"c":17,"r":28,"v":0.02},{"c":18,"r":28,"v":0.02},{"c":19,"r":28,"v":0.02},{"c":20,"r":28,"v":0.02},{"c":21,"r":28,"v":0.02},{"c":22,"r":28,"v":0.02},{"c":23,"r":28,"v":0.02},{"c":24,"r":28,"v":0.02},{"c":25,"r":28,"v":0.02},{"c":26,"r":28,"v":0.02},{"c":27,"r":28,"v":0.02},{"c":28,"r":28,"v":0.02},{"c":29,"r":28,"v":0.02},{"c":30,"r":28,"v":0.02},
{"c":0,"r":29,"v":0.02},{"c":1,"r":29,"v":0.02},{"c":2,"r":29,"v":0.02},{"c":3,"r":29,"v":0.02},{"c":4,"r":29,"v":0.02},{"c":5,"r":29,"v":0.02},{"c":6,"r":29,"v":0.02},{"c":7,"r":29,"v":0.02},{"c":8,"r":29,"v":0.02},{"c":9,"r":29,"v":0.02},{"c":10,"r":29,"v":0.02},{"c":11,"r":29,"v":0.02},{"c":12,"r":29,"v":0.02},{"c":13,"r":29,"v":0.02},{"c":14,"r":29,"v":0.02},{"c":15,"r":29,"v":0.02},{"c":16,"r":29,"v":0.02},{"c":17,"r":29,"v":0.02},{"c":18,"r":29,"v":0.02},{"c":19,"r":29,"v":0.02},{"c":20,"r":29,"v":0.02},{"c":21,"r":29,"v":0.02},{"c":22,"r":29,"v":0.02},{"c":23,"r":29,"v":0.02},{"c":24,"r":29,"v":0.02},{"c":25,"r":29,"v":0.02},{"c":26,"r":29,"v":0.02},{"c":27,"r":29,"v":0.02},{"c":28,"r":29,"v":0.02},{"c":29,"r":29,"v":0.02},{"c":30,"r":29,"v":0.02},
{"c":0,"r":30,"v":0.02},{"c":1,"r":30,"v":0.02},{"c":2,"r":30,"v":0.02},{"c":3,"r":30,"v":0.02},{"c":4,"r":30,"v":0.02},{"c":5,"r":30,"v":0.02},{"c":6,"r":30,"v":0.02},{"c":7,"r":30,"v":0.02},{"c":8,"r":30,"v":0.02},{"c":9,"r":30,"v":0.02},{"c":10,"r":30,"v":0.02},{"c":11,"r":30,"v":0.02},{"c":12,"r":30,"v":0.02},{"c":13,"r":30,"v":0.02},{"c":14,"r":30,"v":0.02},{"c":15,"r":30,"v":0.02},{"c":16,"r":30,"v":0.02},{"c":17,"r":30,"v":0.02},{"c":18,"r":30,"v":0.02},{"c":19,"r":30,"v":0.02},{"c":20,"r":30,"v":0.02},{"c":21,"r":30,"v":0.02},{"c":22,"r":30,"v":0.02},{"c":23,"r":30,"v":0.02},{"c":24,"r":30,"v":0.02},{"c":25,"r":30,"v":0.02},{"c":26,"r":30,"v":0.02},{"c":27,"r":30,"v":0.02},{"c":28,"r":30,"v":0.02},{"c":29,"r":30,"v":0.02},{"c":30,"r":30,"v":0.02}
]},
"vconcat":[
{
"width":542,"height":446,
"title":{"text":"(a)","anchor":"start","frame":"group","orient":"top","offset":0,"dx":-72,"dy":-9,"baseline":"middle","font":"Liberation Sans","fontSize":17,"fontWeight":"normal","color":"#111"},
"layer":[
{"layer":[
{"data":{"name":"heat"},
"mark":{"type":"square","size":208,"filled":true,"opacity":1,"stroke":"#101010","strokeWidth":1.8},
"encoding":{
"x":{"field":"c","type":"quantitative","scale":{"domain":[-1.0548,36.534],"nice":false,"zero":false},
"axis":{"orient":"bottom","values":[4,9.5,15,20.5,26],"labelExpr":"round((datum.value-15)/1.1)+'ᵒ'","ticks":false,"domain":false,"grid":false,"labelFont":"Liberation Serif","labelFontSize":21,"labelColor":"#333","labelPadding":20,"title":"ψ","titleFont":"Liberation Serif","titleFontStyle":"italic","titleFontWeight":"normal","titleFontSize":30,"titleColor":"#222","titleX":227,"titleY":65,"titleBaseline":"middle","titleAlign":"center"}},
"y":{"field":"r","type":"quantitative","scale":{"domain":[30.5,-0.5],"nice":false,"zero":false},
"axis":{"orient":"left","values":[4,9.5,15,20.5,26],"labelExpr":"round((15-datum.value)/1.1)+'ᵒ'","ticks":false,"domain":false,"grid":false,"labelFont":"Liberation Serif","labelFontSize":21,"labelColor":"#333","labelPadding":1,"title":"ψ","titleFont":"Liberation Serif","titleFontStyle":"italic","titleFontWeight":"normal","titleFontSize":30,"titleColor":"#222","titleX":-41,"titleY":234,"titleAngle":-90,"titleBaseline":"middle","titleAlign":"center"}},
"fill":{"field":"v","type":"quantitative","scale":{"domain":[0,0.2,0.4,0.6,0.8,1.0,1.2,1.4,1.55,1.65,1.85,2.0],"range":["#2b2180","#2040c8","#1870dc","#1891d0","#1fa8b8","#3db595","#78b974","#b3b35a","#dcae4c","#f8a92e","#f8c82a","#f5f218"],"clamp":true},
"legend":{"orient":"none","legendX":8,"legendY":-44,"direction":"horizontal","gradientLength":446,"gradientThickness":32,"values":[0,1,2],"format":"d","labelOffset":-62,"labelFont":"Liberation Serif","labelFontSize":22,"labelColor":"#333","labelOverlap":false,"title":"[a. u.]","titleOrient":"right","titleFont":"Liberation Serif","titleFontSize":24,"titleFontWeight":"normal","titleColor":"#222","titlePadding":8,"titleBaseline":"middle","gradientStrokeColor":"#555","gradientStrokeWidth":1,"padding":0}}
}},
{"data":{"values":[{}]},"mark":{"type":"rule","opacity":0},
"encoding":{
"x":{"datum":15,"type":"quantitative","axis":{"orient":"bottom","labels":false,"ticks":false,"domain":false,"grid":false,"title":"y","titleFont":"Liberation Serif","titleFontStyle":"italic","titleFontWeight":"normal","titleFontSize":20,"titleColor":"#222","titleX":242,"titleY":73,"titleBaseline":"middle","titleAlign":"center"}},
"y":{"datum":15,"type":"quantitative","axis":{"orient":"left","labels":false,"ticks":false,"domain":false,"grid":false,"title":"x","titleFont":"Liberation Serif","titleFontStyle":"italic","titleFontWeight":"normal","titleFontSize":20,"titleColor":"#222","titleX":-31,"titleY":215,"titleAngle":-90,"titleBaseline":"middle","titleAlign":"center"}}}},
{"data":{"values":[{}]},"mark":{"type":"rect","fill":"#666","opacity":0.45,"xOffset":3,"x2Offset":3,"yOffset":3,"y2Offset":3},
"encoding":{"x":{"datum":19.61,"type":"quantitative","axis":null},"x2":{"datum":30.08},"y":{"datum":0.06,"type":"quantitative","axis":null},"y2":{"datum":3.67}}},
{"data":{"values":[{}]},"mark":{"type":"rect","stroke":"#555","strokeWidth":1,"fill":{"gradient":"linear","x1":0,"y1":0,"x2":0,"y2":1,"stops":[{"offset":0,"color":"#f6f6f6"},{"offset":1,"color":"#c2c2c2"}]}},
"encoding":{"x":{"datum":19.61,"type":"quantitative","axis":null},"x2":{"datum":30.08},"y":{"datum":0.06,"type":"quantitative","axis":null},"y2":{"datum":3.67}}},
{"data":{"values":[{}]},"mark":{"type":"text","text":"ω","font":"Lato","fontSize":22,"color":"#111","align":"left","baseline":"middle"},
"encoding":{"x":{"datum":20.38,"type":"quantitative","axis":null},"y":{"datum":2.0,"type":"quantitative","axis":null}}},
{"data":{"values":[{}]},"mark":{"type":"text","text":"R","font":"Lato","fontSize":13,"color":"#111","align":"left","baseline":"middle","dx":14,"dy":7},
"encoding":{"x":{"datum":20.38,"type":"quantitative","axis":null},"y":{"datum":2.0,"type":"quantitative","axis":null}}},
{"data":{"values":[{}]},"mark":{"type":"text","text":"= 3×10³ ω","font":"Lato","fontSize":22,"color":"#111","align":"left","baseline":"middle","dx":26},
"encoding":{"x":{"datum":20.38,"type":"quantitative","axis":null},"y":{"datum":2.0,"type":"quantitative","axis":null}}}
],
"resolve":{"axis":{"x":"independent","y":"independent"}}},
{"layer":[
{"data":{"values":[{}]},"mark":{"type":"rect","fill":"white","stroke":"#8a8a8a","strokeWidth":1},
"encoding":{"x":{"datum":0,"type":"quantitative","scale":{"domain":[-298.4,45.73],"nice":false,"zero":false},"axis":null},"x2":{"datum":40},"y":{"datum":-0.5,"type":"quantitative","axis":null},"y2":{"datum":30.5}}},
{"data":{"values":[{}]},"mark":{"type":"rule","stroke":"#dcdcdc","strokeWidth":1},
"encoding":{"x":{"datum":20,"type":"quantitative","axis":null},"y":{"datum":-0.5,"type":"quantitative","axis":null},"y2":{"datum":30.5}}},
{"data":{"name":"ticks"},"mark":{"type":"rule","stroke":"#ececec","strokeWidth":1},
"encoding":{"x":{"datum":0,"type":"quantitative","axis":null},"x2":{"datum":40},"y":{"field":"t","type":"quantitative","axis":null}}},
{"data":{"name":"hist"},
"mark":{"type":"bar","orient":"horizontal","height":12.6,"fill":"#8e0b22","stroke":"#5a5a5a","strokeWidth":0.8},
"encoding":{"x":{"field":"n","type":"quantitative","axis":null},"y":{"field":"r","type":"quantitative","axis":null}}},
{"data":{"name":"ticks"},"mark":{"type":"rule","stroke":"#777","strokeWidth":1},
"encoding":{"x":{"datum":0,"type":"quantitative","axis":null},"x2":{"datum":2.6},"y":{"field":"t","type":"quantitative","axis":null}}},
{"data":{"name":"ticks"},"mark":{"type":"rule","stroke":"#777","strokeWidth":1},
"encoding":{"x":{"datum":37.4,"type":"quantitative","axis":null},"x2":{"datum":40},"y":{"field":"t","type":"quantitative","axis":null}}},
{"data":{"values":[{}]},"mark":{"type":"rule","stroke":"#777","strokeWidth":1},
"encoding":{"x":{"datum":20,"type":"quantitative","axis":null},"y":{"datum":-0.5,"type":"quantitative","axis":null},"y2":{"datum":-0.22}}},
{"data":{"values":[{}]},"mark":{"type":"rule","stroke":"#777","strokeWidth":1},
"encoding":{"x":{"datum":20,"type":"quantitative","axis":null},"y":{"datum":30.22,"type":"quantitative","axis":null},"y2":{"datum":30.5}}}
]}
],
"resolve":{"scale":{"x":"independent"},"axis":{"x":"independent","y":"independent"}}
},
{
"width":542,"height":273,
"view":{"stroke":"#262626","strokeWidth":1},
"title":{"text":"(b)","anchor":"start","frame":"group","orient":"top","offset":0,"dx":-72,"dy":20,"baseline":"middle","font":"Liberation Sans","fontSize":17,"fontWeight":"normal","color":"#111"},
"layer":[
{"data":{"name":"traj"},
"mark":{"type":"point","filled":true,"opacity":1,"strokeWidth":2.2},
"encoding":{
"x":{"field":"psi_y","type":"quantitative","scale":{"domain":[-14.0909,14.0909],"nice":false,"zero":false},
"axis":{"orient":"bottom","values":[-10,-5,0,5,10],"labelExpr":"datum.value+'ᵒ'","tickSize":-5,"tickColor":"#333","domain":false,"grid":true,"gridColor":"#dedede","labelFont":"Liberation Serif","labelFontSize":21,"labelColor":"#333","labelPadding":22,"title":"ψ","titleFont":"Liberation Serif","titleFontStyle":"italic","titleFontWeight":"normal","titleFontSize":30,"titleColor":"#222","titleX":266,"titleY":54,"titleBaseline":"middle","titleAlign":"center"}},
"y":{"field":"value","type":"quantitative","scale":{"domain":[0,80],"nice":false},
"axis":{"orient":"left","values":[0,20,40,60,80],"tickSize":-5,"tickColor":"#333","domain":false,"grid":true,"gridColor":"#dedede","labelFont":"Liberation Serif","labelFontSize":21,"labelColor":"#333","labelPadding":13,"title":"[a. u.]","titleFont":"Liberation Serif","titleFontWeight":"normal","titleFontSize":26,"titleColor":"#222","titleX":-52,"titleY":137,"titleAngle":-90,"titleBaseline":"middle","titleAlign":"center"}},
"color":{"field":"series","type":"nominal","scale":{"domain":["flat trajectory","3D trajectory"],"range":["#3fa9f5","#f0a020"]},
"legend":{"orient":"none","legendX":13,"legendY":14,"title":null,"fillColor":"white","strokeColor":"#333","padding":6,"symbolOffset":16,"symbolSize":120,"labelFont":"Liberation Serif","labelFontSize":20,"labelColor":"#111","labelOffset":6,"rowPadding":3,"symbolStrokeWidth":2.2,"labelLimit":300,
"encode":{"symbols":{"update":{"shape":{"signal":"datum.value === 'flat trajectory' ? 'square' : 'circle'"},"stroke":{"signal":"datum.value === 'flat trajectory' ? '#1a3cff' : '#a8141c'"},"strokeWidth":{"value":2.2},"opacity":{"value":1}}}}}},
"shape":{"field":"series","type":"nominal","scale":{"domain":["flat trajectory","3D trajectory"],"range":["square","circle"]},"legend":null},
"stroke":{"field":"series","type":"nominal","scale":{"domain":["flat trajectory","3D trajectory"],"range":["#1a3cff","#a8141c"]},"legend":null},
"size":{"field":"series","type":"nominal","scale":{"domain":["flat trajectory","3D trajectory"],"range":[100,135]},"legend":null}
}},
{"data":{"values":[{}]},"mark":{"type":"rule","opacity":0},
"encoding":{
"x":{"datum":0,"type":"quantitative","axis":{"orient":"top","values":[-10,-5,0,5,10],"labels":false,"tickSize":-5,"tickColor":"#333","grid":false,"domain":false,"title":"y","titleFont":"Liberation Serif","titleFontStyle":"italic","titleFontWeight":"normal","titleFontSize":20,"titleColor":"#222","titleX":280,"titleY":336,"titleBaseline":"middle","titleAlign":"center"}},
"y":{"datum":0,"type":"quantitative","axis":{"orient":"right","values":[0,20,40,60,80],"labels":false,"tickSize":-5,"tickColor":"#333","grid":false,"domain":false,"title":null}}}},
{"data":{"values":[{}]},"mark":{"type":"rect","fill":"#666","opacity":0.45,"xOffset":3,"x2Offset":3,"yOffset":3,"y2Offset":3},
"encoding":{"x":{"datum":6.34,"type":"quantitative","axis":null},"x2":{"datum":13.68},"y":{"datum":75.9,"type":"quantitative","axis":null},"y2":{"datum":61.2}}},
{"data":{"values":[{}]},"mark":{"type":"rect","stroke":"#555","strokeWidth":1,"fill":{"gradient":"linear","x1":0,"y1":0,"x2":0,"y2":1,"stops":[{"offset":0,"color":"#f6f6f6"},{"offset":1,"color":"#c2c2c2"}]}},
"encoding":{"x":{"datum":6.34,"type":"quantitative","axis":null},"x2":{"datum":13.68},"y":{"datum":75.9,"type":"quantitative","axis":null},"y2":{"datum":61.2}}},
{"data":{"values":[{}]},"mark":{"type":"text","text":"ω","font":"Lato","fontSize":21,"color":"#111","align":"left","baseline":"middle"},
"encoding":{"x":{"datum":6.864,"type":"quantitative","axis":null},"y":{"datum":67.1,"type":"quantitative","axis":null}}},
{"data":{"values":[{}]},"mark":{"type":"text","text":"R","font":"Lato","fontSize":12,"color":"#111","align":"left","baseline":"middle","dx":13,"dy":7},
"encoding":{"x":{"datum":6.864,"type":"quantitative","axis":null},"y":{"datum":67.1,"type":"quantitative","axis":null}}},
{"data":{"values":[{}]},"mark":{"type":"text","text":"= 3×10³ ω","font":"Lato","fontSize":21,"color":"#111","align":"left","baseline":"middle","dx":25},
"encoding":{"x":{"datum":6.864,"type":"quantitative","axis":null},"y":{"datum":67.1,"type":"quantitative","axis":null}}}
],
"resolve":{"axis":{"x":"independent","y":"independent"}}
}
]
}
